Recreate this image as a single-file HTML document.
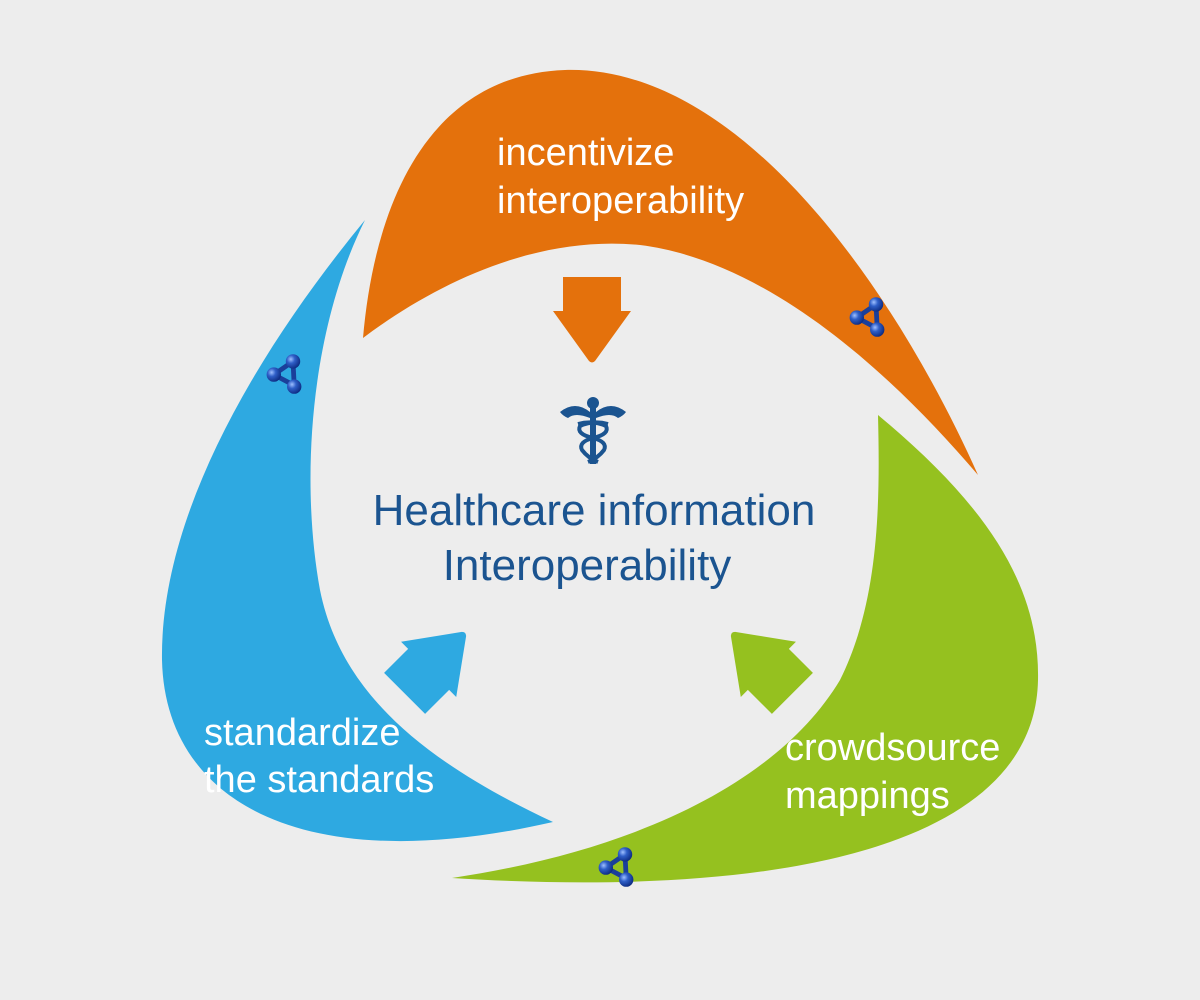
<!DOCTYPE html>
<html><head><style>
html,body{margin:0;padding:0;background:#ededed;}
svg{display:block;}
</style></head><body>
<svg width="1200" height="1000" viewBox="0 0 1200 1000" xmlns="http://www.w3.org/2000/svg">
<defs>
<g id="arr">
<path d="M-29,-43 L29,-43 L29,-9 L39,-9 L3,41 Q0,44 -3,41 L-39,-9 L-29,-9 Z" stroke-linejoin="round"/>
</g>
<radialGradient id="ball" cx="0.35" cy="0.35" r="0.7">
<stop offset="0" stop-color="#9fc0ff"/><stop offset="0.4" stop-color="#2f5fc8"/><stop offset="1" stop-color="#0c2a80"/>
</radialGradient>
<g id="mol">
<path d="M-11,-2 L5,-13 L6,7 Z" fill="none" stroke="#1a3f9a" stroke-width="4"/>
<circle cx="5" cy="-13" r="6" fill="url(#ball)"/>
<circle cx="-11" cy="-2" r="6" fill="url(#ball)"/>
<circle cx="6" cy="8" r="6" fill="url(#ball)"/>
</g>
</defs>
<path d="M363,338 C375,200 430,75 565,70 C745,65 900,300 978,475 C880,360 760,260 640,245 C540,235 440,280 363,338 Z" fill="#e4710c"/>
<path d="M365,220 C250,360 160,520 162,660 C165,800 300,880 553,822 C420,760 340,690 320,590 C300,480 310,330 365,220 Z" fill="#2ea9e1"/>
<path d="M878,415 C980,500 1040,580 1038,680 C1035,840 800,900 452,878 C640,850 780,780 840,680 C880,600 880,500 878,415 Z" fill="#95c11f"/>
<use href="#arr" transform="translate(592,320)" fill="#e4710c"/>
<use href="#arr" transform="translate(435,663) rotate(-135)" fill="#2ea9e1"/>
<use href="#arr" transform="translate(762,663) rotate(135)" fill="#95c11f"/>
<use href="#mol" transform="translate(870,320) scale(1.2)"/>
<use href="#mol" transform="translate(287,377) scale(1.2)"/>
<use href="#mol" transform="translate(619,870) scale(1.2)"/>
<g fill="#1b5490">
<circle cx="593" cy="403" r="6"/>
<path d="M560,412 Q575,400 590,412 L590,418 Q575,412 568,418 Q563,416 560,412 Z"/>
<path d="M626,412 Q611,400 596,412 L596,418 Q611,412 618,418 Q623,416 626,412 Z"/>
<rect x="590" y="408" width="6" height="56"/>
</g>
<g fill="none" stroke="#1b5490" stroke-width="4">
<path d="M578,424 Q593,420 606,426 Q610,434 593,438 Q578,442 582,450 Q588,458 598,462"/>
<path d="M608,424 Q593,420 580,426 Q576,434 593,438 Q608,442 604,450 Q598,458 588,462"/>
</g>
<g font-family="Liberation Sans, sans-serif" font-size="38" fill="#fff">
<text x="497" y="165">incentivize</text>
<text x="497" y="213">interoperability</text>
<text x="204" y="745">standardize</text>
<text x="204" y="792">the standards</text>
<text x="785" y="760">crowdsource</text>
<text x="785" y="808">mappings</text>
</g>
<g font-family="Liberation Sans, sans-serif" font-size="44" fill="#1b5490" text-anchor="middle">
<text x="594" y="525">Healthcare information</text>
<text x="587" y="580">Interoperability</text>
</g>
</svg>
</body></html>
